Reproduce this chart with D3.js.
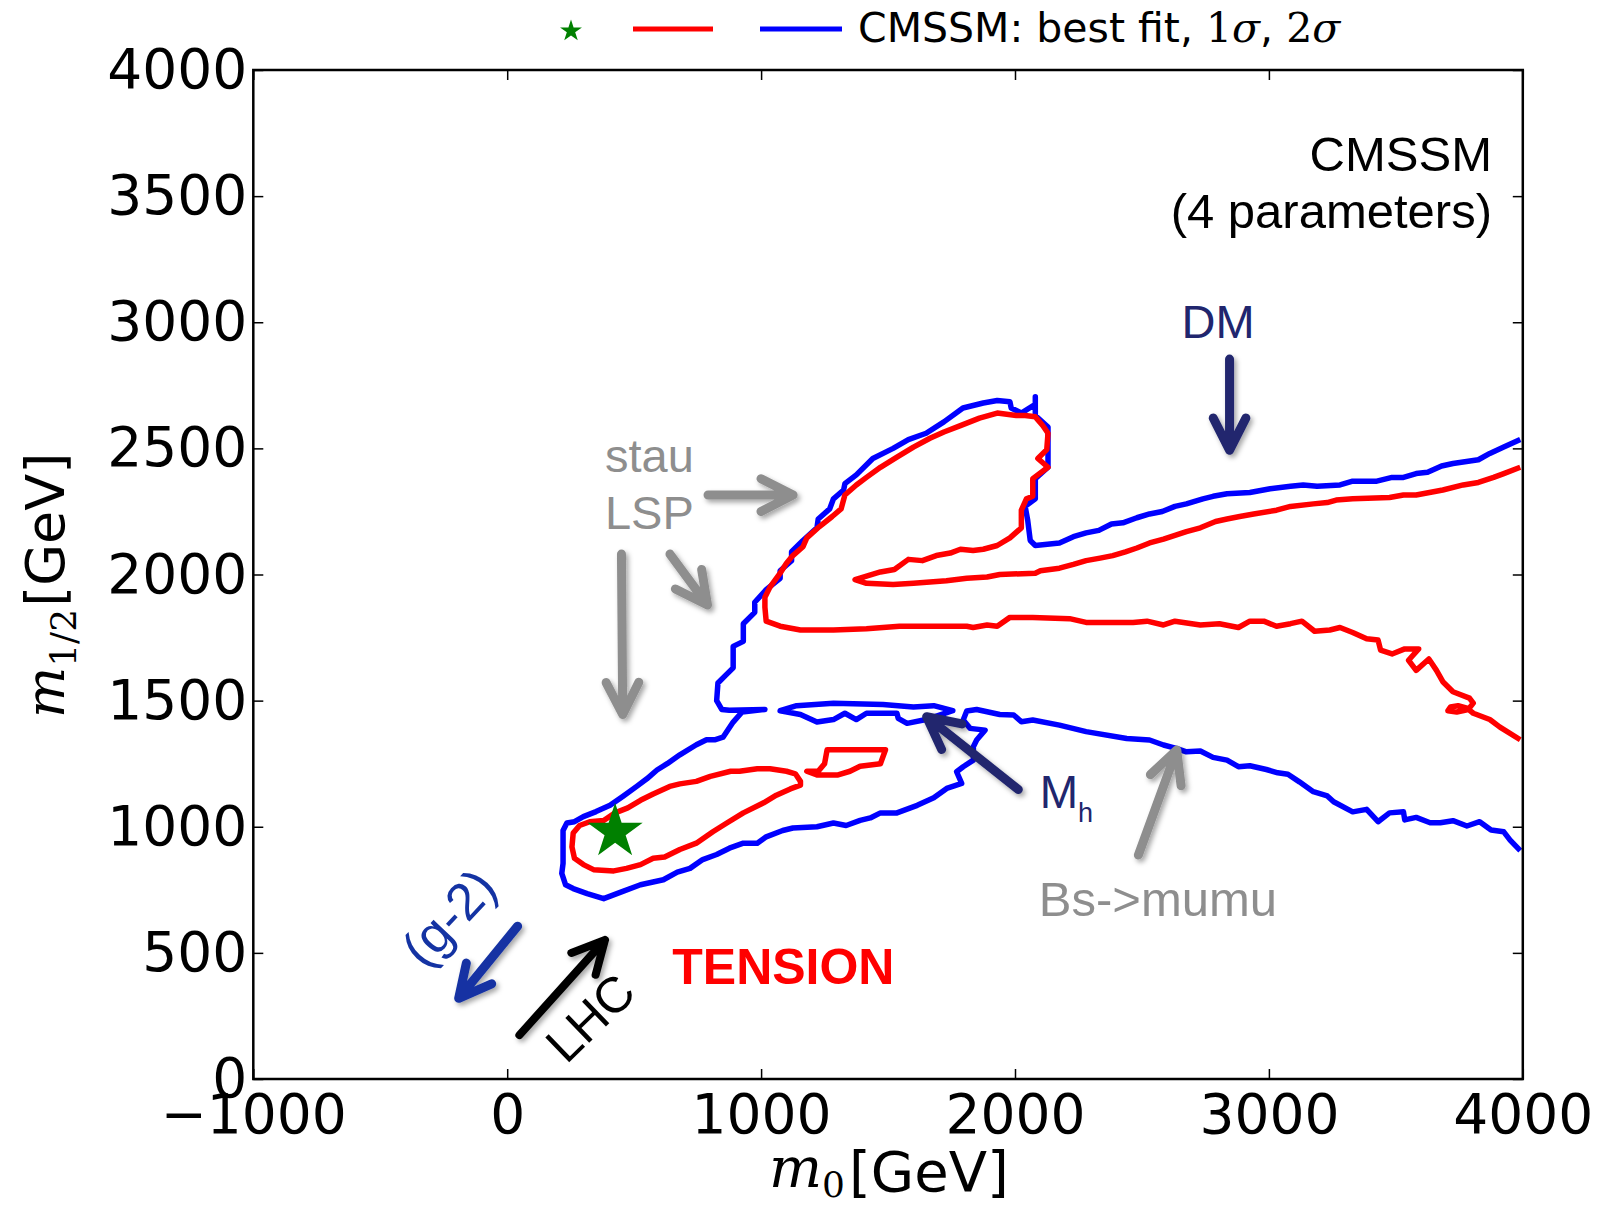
<!DOCTYPE html>
<html>
<head>
<meta charset="utf-8">
<script src="https://cdn.jsdelivr.net/npm/d3@7"></script>
<style>
  html, body { margin: 0; padding: 0; background: #fff; }
  svg { display: block; }
</style>
</head>
<body>
<svg id="chart" width="1608" height="1207"></svg>
<script>
// ---- Data: CMSSM fit in the (m0, m1/2) plane, values in GeV ----
const xTicks = [-1000, 0, 1000, 2000, 3000, 4000];
const yTicks = [0, 500, 1000, 1500, 2000, 2500, 3000, 3500, 4000];

const bestFit = [425, 980];

// 2 sigma boundary (open curve, enters and leaves through m0 = 4000)
const blue2sigma = [
  [3990,2535],[3925,2505],[3870,2480],[3825,2455],[3725,2440],[3680,2430],[3625,2405],[3580,2400],
  [3530,2385],[3485,2385],[3425,2370],[3330,2370],[3280,2355],[3190,2350],[3135,2355],[3085,2350],
  [3005,2340],[2925,2325],[2835,2320],[2780,2310],[2740,2300],[2675,2280],[2630,2270],[2580,2250],
  [2530,2240],[2480,2225],[2425,2205],[2380,2200],[2330,2175],[2280,2165],[2230,2150],[2175,2125],
  [2080,2115],[2060,2135],[2050,2215],[2040,2270],[2080,2300],[2080,2380],[2130,2425],[2130,2585],
  [2080,2630],[2080,2705],[2080,2675],[2025,2640],[1985,2660],[1980,2685],[1930,2690],[1875,2680],
  [1795,2660],[1720,2605],[1650,2560],[1580,2535],[1520,2500],[1440,2460],[1375,2395],[1330,2360],
  [1325,2335],[1285,2300],[1270,2260],[1225,2220],[1220,2185],[1165,2135],[1120,2090],[1120,2055],
  [1075,2015],[1075,1985],[1020,1940],[975,1890],[975,1850],[930,1805],[930,1735],[890,1715],
  [890,1630],[860,1600],[830,1570],[825,1500],[845,1465],[875,1462],[1015,1465],[925,1455],
  [890,1415],[850,1355],[820,1345],[785,1345],[745,1325],[680,1285],[630,1250],[590,1225],
  [550,1190],[510,1160],[455,1120],[405,1085],[350,1060],[300,1040],[265,1020],[235,1015],
  [220,985],[220,855],[215,815],[230,770],[260,755],[315,735],[380,715],[445,740],
  [525,770],[615,790],[670,820],[720,835],[770,870],[825,890],[875,915],[930,935],
  [985,935],[1020,960],[1085,985],[1125,995],[1220,1000],[1285,1015],[1335,1005],[1390,1025],
  [1430,1035],[1470,1055],[1535,1055],[1615,1085],[1680,1115],[1731,1152],[1790,1172],[1770,1218],
  [1796,1238],[1836,1264],[1836,1317],[1849,1344],[1882,1383],[1823,1390],[1796,1423],[1810,1459],
  [1849,1465],[1940,1445],[1995,1443],[2025,1416],[2070,1423],[2175,1403],[2280,1377],[2440,1350],
  [2530,1344],[2585,1324],[2635,1311],[2675,1297],[2730,1300],[2780,1275],[2835,1264],[2880,1238],
  [2925,1242],[2990,1227],[3035,1214],[3075,1208],[3120,1178],[3175,1139],[3230,1122],[3255,1099],
  [3330,1059],[3385,1069],[3430,1020],[3475,1055],[3530,1059],[3535,1027],[3580,1037],[3635,1016],
  [3675,1016],[3725,1024],[3780,1003],[3830,1020],[3875,987],[3925,980],[3950,947],[3990,905]
];

// 2 sigma island along m1/2 ~ 1450 (closed)
const blue2sigmaIsland = [
  [1075,1460],[1140,1480],[1285,1490],[1480,1485],[1600,1475],[1680,1480],[1755,1460],[1650,1425],
  [1575,1410],[1540,1430],[1535,1450],[1415,1450],[1375,1425],[1330,1450],[1285,1425],[1220,1415],
  [1155,1445]
];

// 1 sigma boundary (open curve, enters and leaves through m0 = 4000)
const red1sigma = [
  [3990,2425],[3925,2400],[3885,2385],[3825,2365],[3765,2355],[3685,2335],[3580,2315],[3530,2315],
  [3475,2305],[3330,2300],[3265,2295],[3230,2285],[3175,2280],[3085,2270],[3030,2255],[2940,2240],
  [2885,2230],[2835,2220],[2790,2210],[2730,2185],[2675,2170],[2630,2155],[2585,2140],[2530,2125],
  [2480,2105],[2435,2090],[2385,2075],[2335,2065],[2280,2055],[2230,2040],[2175,2025],[2100,2015],
  [2080,2005],[1940,2000],[1890,1990],[1810,1985],[1730,1975],[1600,1965],[1520,1960],[1415,1965],
  [1370,1980],[1470,2010],[1525,2020],[1580,2060],[1635,2055],[1690,2075],[1745,2085],[1785,2100],
  [1835,2095],[1875,2100],[1930,2115],[1980,2145],[2025,2185],[2025,2255],[2045,2300],[2070,2310],
  [2070,2380],[2130,2425],[2090,2460],[2125,2495],[2130,2560],[2110,2590],[2080,2625],[2040,2630],
  [2005,2630],[1930,2640],[1860,2620],[1785,2590],[1720,2565],[1665,2540],[1600,2505],[1535,2465],
  [1470,2425],[1415,2385],[1375,2355],[1330,2315],[1315,2260],[1280,2230],[1230,2190],[1180,2145],
  [1165,2110],[1125,2075],[1100,2045],[1075,2005],[1035,1950],[1015,1910],[1015,1870],[1020,1815],
  [1075,1795],[1155,1780],[1285,1780],[1415,1785],[1545,1795],[1680,1795],[1810,1795],[1835,1790],
  [1890,1800],[1930,1795],[1980,1830],[2070,1830],[2215,1825],[2280,1810],[2465,1810],[2520,1815],
  [2585,1800],[2630,1815],[2730,1800],[2805,1805],[2880,1790],[2925,1815],[2980,1815],[3030,1795],
  [3085,1805],[3130,1815],[3180,1775],[3240,1780],[3280,1790],[3330,1770],[3385,1745],[3430,1740],
  [3440,1700],[3485,1685],[3535,1705],[3590,1705],[3550,1660],[3580,1620],[3630,1665],[3660,1620],
  [3685,1575],[3725,1535],[3790,1510],[3805,1490],[3785,1465],[3740,1455],[3705,1460],[3715,1475],
  [3745,1480],[3780,1470],[3805,1450],[3870,1425],[3910,1395],[3990,1345]
];

// 1 sigma region around the best fit (closed)
const red1sigmaLobe = [
  [1155,1180],[1135,1210],[1100,1220],[1035,1230],[985,1230],[915,1220],[880,1220],[800,1200],
  [745,1180],[680,1170],[640,1160],[575,1130],[525,1105],[475,1075],[425,1055],[380,1025],
  [325,1020],[285,1005],[260,975],[255,920],[265,875],[300,850],[340,830],[420,825],
  [470,835],[525,850],[575,875],[620,880],[680,910],[745,935],[810,980],[865,1015],
  [930,1055],[1010,1095],[1060,1125],[1115,1150],[1155,1165]
];

// small 1 sigma island (closed)
const red1sigmaIsland = [
  [1260,1305],[1490,1305],[1470,1250],[1390,1240],[1350,1220],[1300,1205],[1220,1205],[1180,1220],
  [1225,1220],[1250,1250]
];

// Physics annotations: arrows (tail -> head, GeV) and their labels
const arrowKinds = ["stau", "stau", "stau", "dm", "mh", "bs", "g2", "lhc"];
const arrowTails = [[791,2315],[641,2081],[450,2081],[2845,2854],[2013,1148],[2486,888],[41,606],[48,174]];
const arrowHeads = [[1126,2315],[789,1879],[455,1445],[2845,2493],[1652,1436],[2637,1304],[-191,320],[385,551]];

const noteTexts = ["stau", "LSP", "DM", "Bs->mumu", "TENSION", "(g-2)", "LHC"];
const noteKinds = ["stau", "stau", "dm", "bs", "tension", "g2", "lhc"];
const noteAnchors = [[385,2406],[385,2180],[2800,2937],[2094,646],[650,375],[-230,640],[328,242]];

// ---- Layout ----
const svg = d3.select("#chart");
const plot = { left: 253.3, right: 1522.8, top: 70, bottom: 1079 };
const x = d3.scaleLinear().domain([-1000, 4000]).range([plot.left, plot.right]);
const y = d3.scaleLinear().domain([0, 4000]).range([plot.bottom, plot.top]);

const kindStyle = {
  stau:    { color: "#8e8e8e", size: 47, width: 9 },
  bs:      { color: "#8e8e8e", size: 49, width: 9 },
  dm:      { color: "#21266e", size: 47, width: 9 },
  mh:      { color: "#21266e", size: 46, width: 9 },
  g2:      { color: "#1433a3", size: 52, width: 9, rotate: -47 },
  lhc:     { color: "#000000", size: 50, width: 8, rotate: -44 },
  tension: { color: "#ff0000", size: 50, weight: "bold" }
};

const defs = svg.append("defs");
const shadow = defs.append("filter").attr("id", "soft-shadow")
  .attr("x", "-40%").attr("y", "-40%").attr("width", "180%").attr("height", "180%");
shadow.append("feDropShadow").attr("dx", 2.5).attr("dy", 3).attr("stdDeviation", 2.5)
  .attr("flood-color", "#000").attr("flood-opacity", 0.35);
defs.append("clipPath").attr("id", "plot-clip").append("rect")
  .attr("x", plot.left).attr("y", plot.top)
  .attr("width", plot.right - plot.left).attr("height", plot.bottom - plot.top);

// ---- Contours ----
const openLine = d3.line().x(d => x(d[0])).y(d => y(d[1]));
const closedLine = d3.line().x(d => x(d[0])).y(d => y(d[1])).curve(d3.curveLinearClosed);

const contours = svg.append("g").attr("clip-path", "url(#plot-clip)")
  .attr("fill", "none").attr("stroke-width", 5.5).attr("stroke-linejoin", "round");

contours.append("path").datum(blue2sigma).attr("d", openLine).attr("stroke", "#0000ff");
contours.append("path").datum(blue2sigmaIsland).attr("d", closedLine).attr("stroke", "#0000ff");
contours.append("path").datum(red1sigma).attr("d", openLine).attr("stroke", "#ff0000");
contours.append("path").datum(red1sigmaLobe).attr("d", closedLine).attr("stroke", "#ff0000");
contours.append("path").datum(red1sigmaIsland).attr("d", closedLine).attr("stroke", "#ff0000");

// best-fit point
const star = d3.symbol().type(d3.symbolStar);
svg.append("path")
  .attr("d", star.size(29 * 29 / 0.8908130915292852)())
  .attr("transform", `translate(${x(bestFit[0])},${y(bestFit[1])})`)
  .attr("fill", "#008000");

// ---- Annotations ----
const notes = svg.append("g");
arrowTails.forEach((t, i) => {
  const st = kindStyle[arrowKinds[i]];
  const x0 = x(t[0]), y0 = y(t[1]);
  const x1 = x(arrowHeads[i][0]), y1 = y(arrowHeads[i][1]);
  const ang = Math.atan2(y1 - y0, x1 - x0);
  const L = 36, spread = 27 * Math.PI / 180;
  const w1 = [x1 - L * Math.cos(ang - spread), y1 - L * Math.sin(ang - spread)];
  const w2 = [x1 - L * Math.cos(ang + spread), y1 - L * Math.sin(ang + spread)];
  notes.append("path")
    .attr("d", `M${x0},${y0}L${x1},${y1}M${w1[0]},${w1[1]}L${x1},${y1}L${w2[0]},${w2[1]}`)
    .attr("fill", "none").attr("stroke", st.color).attr("stroke-width", st.width)
    .attr("stroke-linecap", "round").attr("stroke-linejoin", "round")
    .attr("filter", "url(#soft-shadow)");
});

noteTexts.forEach((txt, i) => {
  const kind = noteKinds[i];
  const st = kindStyle[kind];
  const px = x(noteAnchors[i][0]), py = y(noteAnchors[i][1]);
  const t = notes.append("text")
    .attr("font-family", "'Liberation Sans', Arial, Helvetica, sans-serif")
    .attr("font-size", st.size).attr("font-weight", st.weight || "normal")
    .attr("fill", st.color).text(txt);
  if (st.rotate !== undefined) {
    t.attr("text-anchor", "middle").attr("dominant-baseline", "central")
      .attr("transform", `translate(${px},${py}) rotate(${st.rotate})`);
  } else {
    t.attr("x", px).attr("y", py).attr("text-anchor", kind === "dm" ? "middle" : "start");
  }
});

// Higgs mass label with subscript
const mh = notes.append("text")
  .attr("x", x(2097)).attr("y", y(1074))
  .attr("font-family", "'Liberation Sans', Arial, Helvetica, sans-serif")
  .attr("font-size", kindStyle.mh.size).attr("fill", kindStyle.mh.color);
mh.append("tspan").text("M");
mh.append("tspan").attr("font-size", 27).attr("dy", 14).text("h");

// model label, upper right
const model = svg.append("g")
  .attr("font-family", "'Liberation Sans', Arial, Helvetica, sans-serif")
  .attr("font-size", 49).attr("text-anchor", "end").attr("fill", "#000");
model.append("text").attr("x", 1492).attr("y", 171).text("CMSSM");
model.append("text").attr("x", 1492).attr("y", 228).text("(4 parameters)");

// ---- Axes ----
const fmt = d3.format("d");
function styleAxis(g) {
  g.select(".domain").remove();
  g.attr("font-family", "'DejaVu Sans', sans-serif").attr("font-size", 55);
  g.selectAll(".tick line").attr("stroke", "#000").attr("stroke-width", 1.5);
  g.selectAll(".tick text").attr("fill", "#000");
}
svg.append("g").attr("transform", `translate(0,${plot.bottom})`)
  .call(d3.axisBottom(x).tickValues(xTicks).tickFormat(fmt).tickSize(-10).tickSizeOuter(0).tickPadding(15))
  .call(styleAxis);
svg.append("g").attr("transform", `translate(${plot.left},0)`)
  .call(d3.axisLeft(y).tickValues(yTicks).tickFormat(fmt).tickSize(-10).tickSizeOuter(0).tickPadding(6))
  .call(styleAxis);
svg.append("g").attr("transform", `translate(0,${plot.top})`)
  .call(d3.axisTop(x).tickValues(xTicks).tickFormat("").tickSize(-10).tickSizeOuter(0))
  .call(styleAxis);
svg.append("g").attr("transform", `translate(${plot.right},0)`)
  .call(d3.axisRight(y).tickValues(yTicks).tickFormat("").tickSize(-10).tickSizeOuter(0))
  .call(styleAxis);

svg.append("rect").attr("x", plot.left).attr("y", plot.top)
  .attr("width", plot.right - plot.left).attr("height", plot.bottom - plot.top)
  .attr("fill", "none").attr("stroke", "#000").attr("stroke-width", 2.5);

// axis titles
const xt = svg.append("text").attr("x", 769).attr("y", 1187).attr("fill", "#000");
xt.append("tspan").attr("font-family", "'DejaVu Serif', serif").attr("font-style", "italic")
  .attr("font-size", 56).text("m");
xt.append("tspan").attr("font-family", "'DejaVu Serif', serif").attr("font-size", 36)
  .attr("dy", 10).text("0");
xt.append("tspan").attr("font-family", "'DejaVu Sans', sans-serif").attr("font-size", 56)
  .attr("dy", -6).attr("dx", 4).text("[GeV]");

const yt = svg.append("text").attr("transform", "translate(64,718) rotate(-90)").attr("fill", "#000");
yt.append("tspan").attr("font-family", "'DejaVu Serif', serif").attr("font-style", "italic")
  .attr("font-size", 54).text("m");
yt.append("tspan").attr("font-family", "'DejaVu Serif', serif").attr("font-size", 36)
  .attr("dy", 12).text("1/2");
yt.append("tspan").attr("font-family", "'DejaVu Sans', sans-serif").attr("font-size", 54)
  .attr("dy", -12).attr("dx", 2).text("[GeV]");

// ---- Legend ----
const legend = svg.append("g");
legend.append("path").attr("d", star.size(11.5 * 11.5 / 0.8908130915292852)())
  .attr("transform", "translate(571,31)").attr("fill", "#008000");
legend.append("line").attr("x1", 633).attr("x2", 713).attr("y1", 29).attr("y2", 29)
  .attr("stroke", "#ff0000").attr("stroke-width", 5);
legend.append("line").attr("x1", 760).attr("x2", 842).attr("y1", 29).attr("y2", 29)
  .attr("stroke", "#0000ff").attr("stroke-width", 5);
const lt = legend.append("text").attr("x", 858).attr("y", 42).attr("fill", "#000")
  .attr("font-family", "'DejaVu Sans', sans-serif").attr("font-size", 41);
lt.append("tspan").text("CMSSM: best fit, ");
lt.append("tspan").attr("font-family", "'DejaVu Serif', serif").text("1");
lt.append("tspan").attr("font-family", "'DejaVu Serif', serif").attr("font-style", "italic").text("σ");
lt.append("tspan").text(", ");
lt.append("tspan").attr("font-family", "'DejaVu Serif', serif").text("2");
lt.append("tspan").attr("font-family", "'DejaVu Serif', serif").attr("font-style", "italic").text("σ");
</script>
</body>
</html>
